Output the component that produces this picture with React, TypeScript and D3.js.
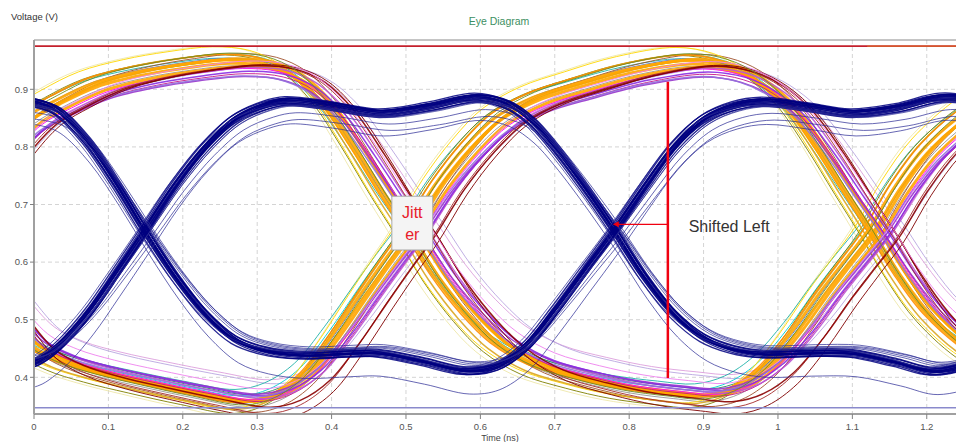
import React from 'react';
import * as d3 from 'd3';

// ---------- axis / tick data ----------
const xTicks = [0, 0.1, 0.2, 0.3, 0.4, 0.5, 0.6, 0.7, 0.8, 0.9, 1.0, 1.1, 1.2];
const xTickLabels = ['0', '0.1', '0.2', '0.3', '0.4', '0.5', '0.6', '0.7', '0.8', '0.9', '1', '1.1', '1.2'];
const yTicks = [0.4, 0.5, 0.6, 0.7, 0.8, 0.9];
const yTickLabels = ['0.4', '0.5', '0.6', '0.7', '0.8', '0.9'];
const xDomain = [0, 1.2393];
const yDomain = [0.3363, 0.9856];

// ---------- reference levels ----------
const upperLimit = 0.975;
const lowerLimit = 0.347;
const midLevel = 0.655;

// ---------- colourful eye: base waveforms (time ns, voltage V) ----------
const colorA_t = [-0.08, -0.04, 0, 0.04, 0.09, 0.15, 0.21, 0.27, 0.32, 0.36, 0.40, 0.44, 0.48, 0.511, 0.55, 0.59, 0.63, 0.68, 0.74, 0.80, 0.86, 0.91, 0.95, 0.99, 1.03, 1.07, 1.10, 1.133, 1.17, 1.21, 1.27, 1.31];
const colorA_v = [0.72, 0.795, 0.85, 0.88, 0.91, 0.93, 0.943, 0.951, 0.945, 0.922, 0.872, 0.797, 0.715, 0.655, 0.575, 0.51, 0.46, 0.423, 0.40, 0.383, 0.373, 0.368, 0.382, 0.418, 0.478, 0.55, 0.60, 0.655, 0.733, 0.80, 0.865, 0.89];
const colorB_t = [-0.08, -0.04, 0, 0.04, 0.09, 0.15, 0.22, 0.29, 0.33, 0.37, 0.41, 0.45, 0.48, 0.511, 0.55, 0.59, 0.63, 0.68, 0.74, 0.81, 0.89, 0.94, 0.98, 1.02, 1.06, 1.10, 1.133, 1.17, 1.21, 1.27, 1.31];
const colorB_v = [0.60, 0.52, 0.458, 0.43, 0.41, 0.392, 0.373, 0.358, 0.37, 0.405, 0.47, 0.545, 0.60, 0.655, 0.735, 0.80, 0.85, 0.885, 0.91, 0.935, 0.95, 0.94, 0.915, 0.87, 0.80, 0.72, 0.655, 0.578, 0.51, 0.445, 0.425];

// ---------- navy eye: base waveforms ----------
const navyC_t = [-0.06, 0, 0.03, 0.07, 0.11, 0.149, 0.19, 0.23, 0.27, 0.31, 0.36, 0.42, 0.46, 0.52, 0.58, 0.62, 0.66, 0.70, 0.74, 0.78, 0.82, 0.86, 0.90, 0.94, 0.98, 1.04, 1.10, 1.16, 1.22, 1.27, 1.30];
const navyC_v = [0.884, 0.878, 0.864, 0.812, 0.737, 0.655, 0.575, 0.51, 0.465, 0.446, 0.438, 0.441, 0.442, 0.428, 0.411, 0.418, 0.452, 0.515, 0.585, 0.655, 0.73, 0.80, 0.848, 0.871, 0.879, 0.87, 0.859, 0.868, 0.886, 0.878, 0.858];
const navyD_t = [-0.06, 0, 0.02, 0.044, 0.075, 0.11, 0.149, 0.19, 0.23, 0.27, 0.31, 0.34, 0.40, 0.465, 0.53, 0.595, 0.635, 0.667, 0.695, 0.74, 0.78, 0.82, 0.86, 0.90, 0.94, 0.98, 1.04, 1.10, 1.16, 1.21, 1.27, 1.30];
const navyD_v = [0.412, 0.425, 0.44, 0.468, 0.515, 0.58, 0.655, 0.735, 0.80, 0.848, 0.872, 0.88, 0.872, 0.859, 0.87, 0.886, 0.875, 0.847, 0.807, 0.73, 0.655, 0.575, 0.51, 0.468, 0.448, 0.44, 0.442, 0.441, 0.425, 0.41, 0.43, 0.46];

// ---------- colourful traces (per-trace jitter / offset / swing) ----------
const traceColors = ['#EEE8AA', '#DDA0DD', '#B9A6E0', '#20B2AA', '#00CED1', '#2E8B57', '#808000', '#4169E1', '#7a7a7a', '#A0522D', '#FFD700', '#DAA520', '#FF8C00', '#FFA500', '#FFA500', '#FFA500', '#FFA500', '#FF00FF', '#C71585', '#BA55D3', '#9932CC', '#8A2BE2', '#9370DB', '#A52A2A', '#8B0000', '#800000', '#EE82EE', '#6B8E23'];
const traceShift = [-0.036, 0.03, 0.04, -0.022, -0.015, 0.0, -0.026, -0.01, 0.0, 0.006, -0.03, -0.02, -0.017, -0.012, -0.005, 0.002, 0.007, 0.01, 0.015, 0.021, 0.012, 0.018, 0.008, 0.026, 0.031, 0.036, 0.02, -0.008];
const traceOffset = [0.0, 0.014, 0.01, 0.012, 0.01, 0.006, -0.006, 0.0, -0.01, -0.004, 0.005, -0.002, 0.004, 0.0, -0.003, 0.002, -0.006, -0.006, -0.012, -0.004, -0.008, -0.005, -0.01, -0.015, -0.01, -0.02, 0.01, 0.003];
const traceScale = [1.08, 0.92, 0.93, 0.97, 1.0, 0.98, 1.05, 1.01, 1.0, 1.05, 1.06, 1.04, 1.02, 1.0, 0.99, 1.0, 0.98, 0.97, 0.96, 0.97, 0.93, 0.95, 0.94, 1.02, 1.0, 1.04, 0.96, 1.03];
const traceWidth = [1, 1, 1, 1, 1, 1, 1, 1, 0.8, 1, 1, 1.5, 1.5, 3, 3, 3, 3, 1, 1, 1.5, 1.5, 1.5, 1.5, 1, 1.5, 1, 1, 1];

// ---------- navy traces ----------
const navyShift = [-0.006, -0.004, -0.003, -0.002, -0.001, 0, 0, 0.001, 0.002, 0.003, 0.004, 0.005, -0.005, 0.006, -0.002, 0.002, 0.008, 0.012, -0.01, 0.015, 0.005, 0.01];
const navyOffset = [0.004, -0.002, 0.005, 0.001, -0.004, 0.002, -0.001, 0.006, -0.005, 0.003, 0, -0.003, -0.006, 0.001, 0.003, -0.002, 0, -0.005, 0.0, -0.01, -0.04, 0.004];
const navyScale = [1.0, 0.99, 1.01, 1.0, 0.98, 1.01, 1.0, 0.995, 1.005, 0.99, 1.02, 0.985, 1.0, 1.01, 0.995, 1.0, 0.96, 0.93, 0.97, 0.9, 1.0, 0.95];
const navyOutlier = [false, false, false, false, false, false, false, false, false, false, false, false, false, false, false, false, true, true, true, true, true, true];

// ---------- annotations ----------
const jitterBox = { t0: 0.481, t1: 0.536, v0: 0.7144, v1: 0.621 };
const jitterLines = ['Jitt', 'er'];
const shiftLine = { t: 0.852, vTop: 0.913, vBottom: 0.399 };
const shiftArrow = { tFrom: 0.852, tTo: 0.778, v: 0.6656 };
const shiftLabel = { t: 0.88, v: 0.652, text: 'Shifted Left' };

const FONT = "'Liberation Sans', Arial, sans-serif";

export default function App() {
  const left = 34, right = 956, top = 40, bottom = 414;
  const x = d3.scaleLinear().domain(xDomain).range([left, right]);
  const y = d3.scaleLinear().domain(yDomain).range([bottom, top]);

  const makePath = (ts: number[], vs: number[], dt: number, dv: number, amp: number) =>
    d3
      .line<number>()
      .x((_, i) => x(ts[i] + dt))
      .y((v) => y(midLevel + (v - midLevel) * amp + dv))
      .curve(d3.curveCatmullRom.alpha(0.5))(vs) || '';

  const colorPaths: React.ReactNode[] = [];
  traceColors.forEach((c, i) => {
    const dA = makePath(colorA_t, colorA_v, traceShift[i], traceOffset[i], traceScale[i]);
    const dB = makePath(colorB_t, colorB_v, traceShift[i] * 0.9, traceOffset[i], traceScale[i]);
    colorPaths.push(<path key={'a' + i} d={dA} fill="none" stroke={c} strokeWidth={traceWidth[i]} strokeOpacity={0.9} />);
    colorPaths.push(<path key={'b' + i} d={dB} fill="none" stroke={c} strokeWidth={traceWidth[i]} strokeOpacity={0.9} />);
  });

  const navyPaths: React.ReactNode[] = [];
  navyShift.forEach((dt, i) => {
    const out = navyOutlier[i];
    const stroke = out ? '#2b2b95' : '#000080';
    const w = out ? 0.9 : 1.3;
    const op = out ? 0.8 : 0.85;
    navyPaths.push(<path key={'c' + i} d={makePath(navyC_t, navyC_v, dt, navyOffset[i], navyScale[i])} fill="none" stroke={stroke} strokeWidth={w} strokeOpacity={op} />);
    navyPaths.push(<path key={'d' + i} d={makePath(navyD_t, navyD_v, dt, navyOffset[i], navyScale[i])} fill="none" stroke={stroke} strokeWidth={w} strokeOpacity={op} />);
  });

  const bx0 = x(jitterBox.t0), bx1 = x(jitterBox.t1), by0 = y(jitterBox.v0), by1 = y(jitterBox.v1);
  const bcx = (bx0 + bx1) / 2;
  const ax1 = x(shiftArrow.tTo), ax0 = x(shiftArrow.tFrom), ay = y(shiftArrow.v);

  return (
    <svg width={956} height={442} style={{ position: 'absolute', left: 0, top: 0, background: '#fff' }} fontFamily={FONT}>
      <defs>
        <clipPath id="plotClip">
          <rect x={left} y={top} width={right - left} height={bottom - top} />
        </clipPath>
      </defs>
      <rect x={0} y={0} width={956} height={442} fill="#fff" />

      {/* grid */}
      {xTicks.slice(1).map((t) => (
        <line key={'gx' + t} x1={x(t)} x2={x(t)} y1={top} y2={bottom} stroke="#d4d4d4" strokeDasharray="4,3" strokeWidth={1} />
      ))}
      {yTicks.map((v) => (
        <line key={'gy' + v} x1={left} x2={right} y1={y(v)} y2={y(v)} stroke="#d4d4d4" strokeDasharray="4,3" strokeWidth={1} />
      ))}

      {/* traces */}
      <g clipPath="url(#plotClip)">
        {colorPaths}
        {navyPaths}
        <line x1={left} x2={right} y1={y(upperLimit)} y2={y(upperLimit)} stroke="#c4202c" strokeWidth={1.8} />
        <line x1={x(1.12)} x2={right} y1={y(upperLimit)} y2={y(upperLimit)} stroke="#e07a30" strokeWidth={1} />
        <line x1={left} x2={right} y1={y(lowerLimit)} y2={y(lowerLimit)} stroke="#8a8acc" strokeWidth={1.5} />
      </g>

      {/* frame */}
      <line x1={left} x2={right} y1={top} y2={top} stroke="#8a8a8a" strokeWidth={1} />
      <line x1={left} x2={left} y1={top} y2={bottom} stroke="#a0a0a0" strokeWidth={2} />
      <line x1={left} x2={right} y1={bottom} y2={bottom} stroke="#a0a0a0" strokeWidth={2} />

      {/* y axis ticks */}
      {yTicks.map((v, i) => (
        <g key={'yt' + v}>
          <line x1={left - 4} x2={left} y1={y(v)} y2={y(v)} stroke="#808080" strokeWidth={1} />
          <text x={left - 6} y={y(v) + 3.3} fontSize={9.5} fill="#555" textAnchor="end">
            {yTickLabels[i]}
          </text>
        </g>
      ))}
      {/* x axis ticks */}
      {xTicks.map((t, i) => (
        <g key={'xt' + t}>
          <line x1={x(t)} x2={x(t)} y1={bottom} y2={bottom + 5} stroke="#808080" strokeWidth={1} />
          <text x={x(t)} y={bottom + 15.5} fontSize={9.5} fill="#555" textAnchor="middle">
            {xTickLabels[i]}
          </text>
        </g>
      ))}

      <text x={11} y={19.5} fontSize={9.5} fill="#333">Voltage (V)</text>
      <text x={499} y={25} fontSize={10.5} fill="#3d8f62" textAnchor="middle">Eye Diagram</text>
      <text x={500} y={440.5} fontSize={9} fill="#444" textAnchor="middle">Time (ns)</text>

      {/* annotations */}
      <rect x={bx0} y={by0} width={bx1 - bx0} height={by1 - by0} fill="#f4f4f4" stroke="#a8a8a8" strokeWidth={1} />
      <text x={bcx} y={by0 + 22} fontSize={16} fill="#e8202a" textAnchor="middle">{jitterLines[0]}</text>
      <text x={bcx} y={by0 + 44} fontSize={16} fill="#e8202a" textAnchor="middle">{jitterLines[1]}</text>

      <line x1={x(shiftLine.t)} x2={x(shiftLine.t)} y1={y(shiftLine.vTop)} y2={y(shiftLine.vBottom)} stroke="#f00010" strokeWidth={2.5} />
      <line x1={ax0} x2={ax1 + 5} y1={ay} y2={ay} stroke="#f00010" strokeWidth={1.2} />
      <path d={`M${ax1},${ay} L${ax1 + 6},${ay - 3} L${ax1 + 6},${ay + 3} Z`} fill="#f00010" />
      <text x={x(shiftLabel.t)} y={y(shiftLabel.v)} fontSize={16} fill="#333">{shiftLabel.text}</text>
    </svg>
  );
}
